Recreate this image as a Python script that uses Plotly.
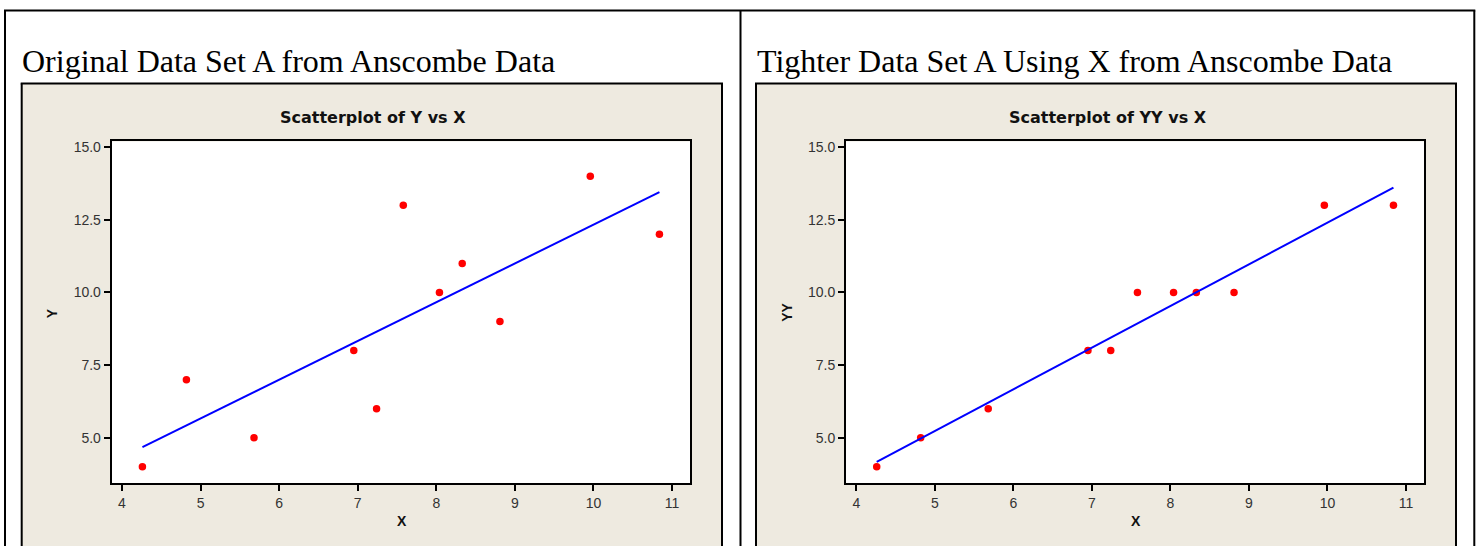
import numpy as np
import plotly.graph_objects as go

# ---- data ----
x_vals = [8.04, 6.95, 7.58, 8.81, 8.33, 9.96, 7.24, 4.26, 10.84, 4.82, 5.68]
y_vals = [10, 8, 13, 9, 11, 14, 6, 4, 12, 7, 5]
yy_vals = [10, 8, 10, 10, 10, 13, 8, 4, 13, 5, 6]

x_ticks = [4, 5, 6, 7, 8, 9, 10, 11]
y_ticks = [5.0, 7.5, 10.0, 12.5, 15.0]
y_ticktext = ["5.0", "7.5", "10.0", "12.5", "15.0"]

headers = ["Original Data Set A from Anscombe Data",
           "Tighter Data Set A Using X from Anscombe Data"]
plot_titles = ["Scatterplot of Y vs X", "Scatterplot of YY vs X"]
y_titles = ["Y", "YY"]
x_title = "X"

W, H = 1481, 546


def px(x):
    return x / W


def py(y):
    return 1 - y / H


BEIGE = "#EEEAE0"
SANS = "Liberation Sans, Arial, sans-serif"
TITLE_FONT = "DejaVu Sans, Verdana, sans-serif"
SERIF = "Liberation Serif, Times New Roman, serif"

fig = go.Figure()

panels = [
    dict(xa="x", ya="y", beige=(21.7, 722.0), plot=(111.7, 690.0), y=y_vals, ytitle_x=51.5),
    dict(xa="x2", ya="y2", beige=(756.0, 1456.0), plot=(846.0, 1424.0), y=yy_vals, ytitle_x=787.0),
]
plot_top, plot_bot = 140.0, 483.0
beige_top = 81.7

shapes = []
annotations = []


def vline(x, y0, y1):
    return dict(type="line", xref="paper", yref="paper", x0=px(x), x1=px(x), y0=py(y0), y1=py(y1),
                line=dict(color="black", width=2))


def hline(y, x0, x1):
    return dict(type="line", xref="paper", yref="paper", x0=px(x0), x1=px(x1), y0=py(y), y1=py(y),
                line=dict(color="black", width=2))


# outer table frame
shapes.append(hline(8.5, 4, 1475.3))
shapes.append(vline(5, 8.5, 560))
shapes.append(vline(740.5, 8.5, 560))
shapes.append(vline(1474.3, 8.5, 560))

for i, p in enumerate(panels):
    bx0, bx1 = p["beige"]
    shapes.append(dict(type="rect", xref="paper", yref="paper", layer="below",
                       x0=px(bx0), x1=px(bx1), y0=py(beige_top), y1=py(570),
                       fillcolor=BEIGE, line=dict(width=0)))
    shapes.append(hline(beige_top, bx0 - 1, bx1 + 1))
    shapes.append(vline(bx0, beige_top, 560))
    shapes.append(vline(bx1, beige_top, 560))
    # white plot area
    shapes.append(dict(type="rect", xref=p["xa"] + " domain", yref=p["ya"] + " domain", layer="below",
                       x0=0, x1=1, y0=0, y1=1, fillcolor="white", line=dict(width=0)))

    # points
    fig.add_trace(go.Scatter(x=x_vals, y=p["y"], mode="markers",
                             marker=dict(color="#FF0000", size=7.5, line=dict(width=0)),
                             xaxis=p["xa"], yaxis=p["ya"], showlegend=False, hoverinfo="skip"))
    # fitted regression line
    b, a = np.polyfit(x_vals, p["y"], 1)
    xs = [min(x_vals), max(x_vals)]
    fig.add_trace(go.Scatter(x=xs, y=[a + b * v for v in xs], mode="lines",
                             line=dict(color="#0000FF", width=2),
                             xaxis=p["xa"], yaxis=p["ya"], showlegend=False, hoverinfo="skip"))

    # header (serif)
    annotations.append(dict(text=headers[i], xref="paper", yref="paper",
                            x=px(bx0 - 1.5), y=py(59.5), xanchor="left", yanchor="middle",
                            showarrow=False, font=dict(family=SERIF, size=32, color="black")))
    # plot title
    annotations.append(dict(text="<b>" + plot_titles[i] + "</b>", xref="paper", yref="paper",
                            x=px((bx0 + bx1) / 2 + 1.5), y=py(116), xanchor="center", yanchor="middle",
                            showarrow=False, font=dict(family=TITLE_FONT, size=16, color="#111111")))
    # axis titles
    px0, px1 = p["plot"]
    annotations.append(dict(text="<b>" + x_title + "</b>", xref="paper", yref="paper",
                            x=px((px0 + px1) / 2 + 1), y=py(521), xanchor="center", yanchor="middle",
                            showarrow=False, font=dict(family=SANS, size=14, color="#111111")))
    annotations.append(dict(text="<b>" + y_titles[i] + "</b>", xref="paper", yref="paper",
                            x=px(p["ytitle_x"]), y=py(312), xanchor="center", yanchor="middle",
                            textangle=-90,
                            showarrow=False, font=dict(family=SANS, size=14, color="#111111")))

axis_common = dict(showgrid=False, zeroline=False, showline=True, mirror=True,
                   linecolor="black", linewidth=2, ticks="outside", ticklen=6,
                   tickwidth=2, tickcolor="black",
                   tickfont=dict(family=SANS, size=14, color="#333333"))

layout = dict(width=W, height=H, margin=dict(l=0, r=0, t=0, b=0, pad=0),
              paper_bgcolor="white", plot_bgcolor="rgba(0,0,0,0)",
              shapes=shapes, annotations=annotations, showlegend=False)

for i, p in enumerate(panels):
    sx = "" if i == 0 else "2"
    px0, px1 = p["plot"]
    layout["xaxis" + sx] = dict(axis_common, domain=[px(px0), px(px1)], range=[3.869, 11.229],
                                tickvals=x_ticks, anchor="y" + sx)
    layout["yaxis" + sx] = dict(axis_common, domain=[py(plot_bot), py(plot_top)], range=[3.435, 15.195],
                                tickvals=y_ticks, ticktext=y_ticktext, anchor="x" + sx)

fig.update_layout(**layout)
# remove the default 8px page margin so the figure fills the window exactly
fig.write_html("out.html", config={"displayModeBar": False},
               post_script="document.body.style.margin='0';document.body.style.overflow='hidden';")
